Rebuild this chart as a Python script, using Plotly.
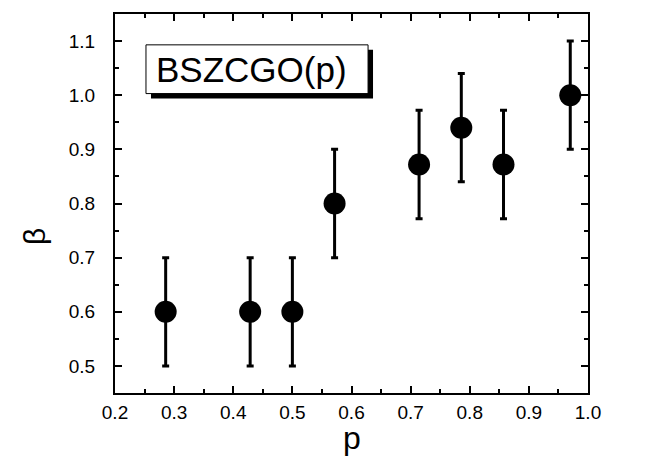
import plotly.graph_objects as go

# Data
p_values = [0.2857, 0.4286, 0.5, 0.5714, 0.7143, 0.7857, 0.8571, 0.97]
beta_values = [0.6, 0.6, 0.6, 0.8, 0.872, 0.94, 0.872, 1.0]
beta_errors = [0.1, 0.1, 0.1, 0.1, 0.1, 0.1, 0.1, 0.1]
x_ticks = [0.2, 0.3, 0.4, 0.5, 0.6, 0.7, 0.8, 0.9, 1.0]
y_ticks = [0.5, 0.6, 0.7, 0.8, 0.9, 1.0, 1.1]
label_text = "BSZCGO(p)"

FONT = "Arial, 'Liberation Sans', Helvetica, sans-serif"

fig = go.Figure()
fig.add_trace(go.Scatter(
    x=p_values, y=beta_values, mode="markers",
    marker=dict(size=22, color="black"),
    error_y=dict(type="data", array=beta_errors, visible=True,
                 color="black", thickness=3, width=3.5),
    showlegend=False,
))

axis_common = dict(
    showline=True, linecolor="black", linewidth=2, mirror="ticks",
    ticks="inside", ticklen=7, tickwidth=2, tickcolor="black",
    showgrid=False, zeroline=False,
    tickfont=dict(family=FONT, size=19, color="black"),
)

fig.update_xaxes(
    range=[0.2, 1.0], tickvals=x_ticks,
    ticktext=[f"{v:.1f}" for v in x_ticks],
    minor=dict(ticks="inside", ticklen=4, tickwidth=2, tickcolor="black", dtick=0.05, tick0=0.2),
    ticklabelstandoff=1,
    **axis_common,
)
fig.update_yaxes(
    range=[0.45, 1.15], tickvals=y_ticks,
    ticktext=[f"{v:.1f}" for v in y_ticks],
    minor=dict(ticks="inside", ticklen=4, tickwidth=2, tickcolor="black", dtick=0.05, tick0=0.45),
    ticklabelstandoff=14,
    **axis_common,
)

# Label box with drop shadow
fig.add_shape(type="rect", xref="paper", yref="paper",
              x0=0.0761, x1=0.5455, y0=0.7769, y1=0.9055,
              fillcolor="black", line=dict(width=0), layer="above")
fig.add_shape(type="rect", xref="paper", yref="paper",
              x0=0.0655, x1=0.535, y0=0.790, y1=0.9186,
              fillcolor="white", line=dict(color="black", width=1), layer="above")
fig.add_annotation(text=label_text, xref="paper", yref="paper",
                   x=0.2896, y=0.8543, xanchor="center", yanchor="middle",
                   showarrow=False, font=dict(family=FONT, size=35, color="black"))

# Axis titles
fig.add_annotation(text="p", xref="paper", yref="paper",
                   x=0.5, y=-0.118, xanchor="center", yanchor="middle",
                   showarrow=False, font=dict(family=FONT, size=32, color="black"))
fig.add_annotation(text="β", xref="paper", yref="paper",
                   x=-0.169, y=0.412, xanchor="center", yanchor="middle",
                   textangle=-90, showarrow=False,
                   font=dict(family=FONT, size=30, color="black"))

# Page body has an 8px default margin; offset margins so the plot area
# lands where it does in the reference.
fig.update_layout(
    width=664, height=463,
    margin=dict(l=107, r=84, t=4, b=78),
    plot_bgcolor="white", paper_bgcolor="white",
)

fig.write_html("out.html")
